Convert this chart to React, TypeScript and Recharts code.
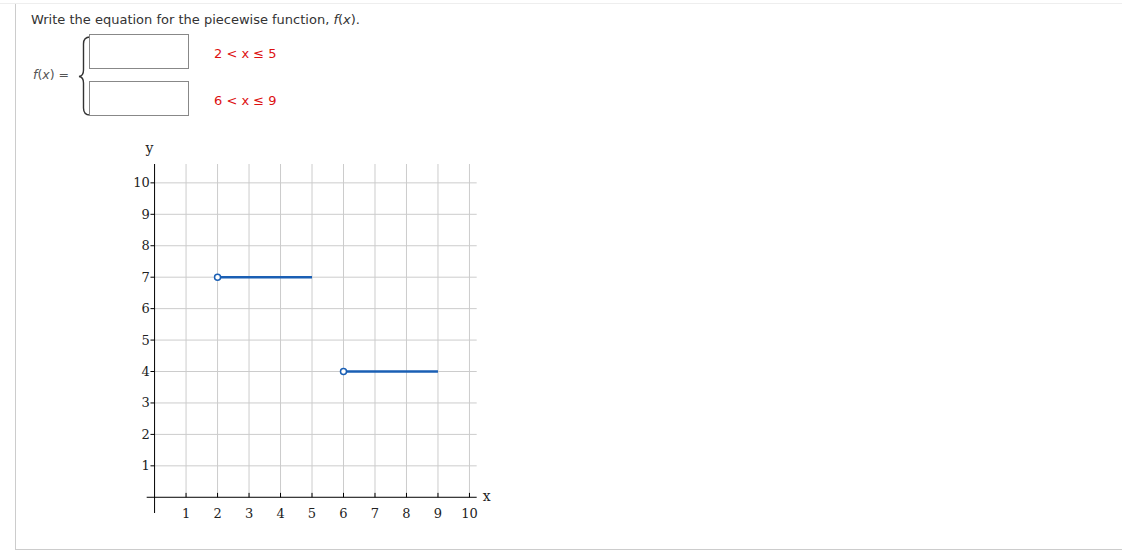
import React from 'react';
import { ComposedChart, XAxis, YAxis, Line, ReferenceLine } from 'recharts';

const xTicks = [1, 2, 3, 4, 5, 6, 7, 8, 9, 10];
const yTicks = [1, 2, 3, 4, 5, 6, 7, 8, 9, 10];
const piece1 = [
  { x: 2, y: 7 },
  { x: 5, y: 7 },
];
const piece2 = [
  { x: 6, y: 4 },
  { x: 9, y: 4 },
];
const conditions = ['2 < x \u2264 5', '6 < x \u2264 9'];

const X_DOMAIN: [number, number] = [-0.25, 10.23];
const Y_DOMAIN: [number, number] = [-0.5, 10.6];
const LINE_COLOR = '#1a5fb4';
const GRID_COLOR = '#cccccc';
const SERIF = '"DejaVu Serif", serif';
const SANS = '"DejaVu Sans", Verdana, sans-serif';

const XTick = (props: any) => {
  const { x, y, payload } = props;
  return (
    <text x={x} y={y + 4.5} textAnchor="middle" fontFamily={SERIF} fontSize={13} fill="#222">
      {payload.value}
    </text>
  );
};

const YTick = (props: any) => {
  const { x, y, payload } = props;
  return (
    <text x={x + 3} y={y + 4.5} textAnchor="end" fontFamily={SERIF} fontSize={13} fill="#222">
      {payload.value}
    </text>
  );
};

const openDot = (props: any) => {
  const { cx, cy, index } = props;
  if (index !== 0) return <g key={`d${index}`} />;
  return <circle key={`d${index}`} cx={cx} cy={cy} r={3} fill="#fff" stroke={LINE_COLOR} strokeWidth={1.5} />;
};

function Header() {
  return (
    <svg width={1122} height={552} style={{ position: 'absolute', left: 0, top: 0 }}>
      <line x1={0} y1={3.5} x2={1122} y2={3.5} stroke="#eeeeee" strokeWidth={1} />
      <line x1={15.5} y1={4} x2={15.5} y2={549} stroke="#cccccc" strokeWidth={1} />
      <line x1={15} y1={549.5} x2={1122} y2={549.5} stroke="#cccccc" strokeWidth={1} />
      <text x={31} y={24} fontFamily={SANS} fontSize={13} fill="#333">
        Write the equation for the piecewise function, <tspan fontStyle="italic">f</tspan>(<tspan fontStyle="italic">x</tspan>).
      </text>
      <text x={33} y={79} fontFamily={SANS} fontSize={12.5} fill="#555">
        <tspan fontStyle="italic">f</tspan>(<tspan fontStyle="italic">x</tspan>) =
      </text>
      <path
        d="M 90 37 Q 83.5 37 83.5 44 L 83.5 70 Q 83.5 76 79 76.5 Q 83.5 77 83.5 83 L 83.5 108 Q 83.5 115 90 115"
        fill="none"
        stroke="#333"
        strokeWidth={1.4}
      />
      <rect x={89.5} y={34.5} width={99} height={34} fill="#fff" stroke="#888" strokeWidth={1} />
      <rect x={89.5} y={81.5} width={99} height={34} fill="#fff" stroke="#888" strokeWidth={1} />
      <text x={214} y={57.5} fontFamily={SANS} fontSize={13} fill="#dd1111" xmlSpace="preserve">
        {conditions[0]}
      </text>
      <text x={214} y={104.5} fontFamily={SANS} fontSize={13} fill="#dd1111" xmlSpace="preserve">
        {conditions[1]}
      </text>
    </svg>
  );
}

export default function App() {
  return (
    <div style={{ position: 'absolute', left: 0, top: 0, width: 1122, height: 552, background: '#fff' }}>
      <Header />
      <div style={{ position: 'absolute', left: 100, top: 130 }}>
        <ComposedChart width={420} height={420} margin={{ top: 34, left: 16.7, right: 43.3, bottom: 7 }}>
          <XAxis
            type="number"
            dataKey="x"
            domain={X_DOMAIN}
            allowDataOverflow
            ticks={xTicks}
            axisLine={false}
            tickLine={false}
            tickSize={0}
            tickMargin={0}
            height={30}
            tick={<XTick />}
            interval={0}
          />
          <YAxis
            type="number"
            dataKey="y"
            domain={Y_DOMAIN}
            allowDataOverflow
            ticks={yTicks}
            axisLine={false}
            tickLine={false}
            tickSize={0}
            tickMargin={0}
            width={30}
            tick={<YTick />}
            interval={0}
          />
          {xTicks.map((t) => (
            <ReferenceLine
              key={`vg${t}`}
              segment={[{ x: t, y: 0 }, { x: t, y: Y_DOMAIN[1] }]}
              stroke={GRID_COLOR}
              strokeWidth={1}
            />
          ))}
          {yTicks.map((t) => (
            <ReferenceLine
              key={`hg${t}`}
              segment={[{ x: 0, y: t }, { x: X_DOMAIN[1], y: t }]}
              stroke={GRID_COLOR}
              strokeWidth={1}
            />
          ))}
          <ReferenceLine
            y={0}
            stroke="#000"
            strokeWidth={1}
            label={{
              content: (p: any) => (
                <text x={p.viewBox.x + p.viewBox.width + 6} y={p.viewBox.y + 4} fontFamily={SERIF} fontSize={14} fill="#222">
                  x
                </text>
              ),
            }}
          />
          <ReferenceLine
            x={0}
            stroke="#000"
            strokeWidth={1}
            label={{
              content: (p: any) => (
                <text x={p.viewBox.x - 5} y={p.viewBox.y - 11} textAnchor="middle" fontFamily={SERIF} fontSize={14} fill="#222">
                  y
                </text>
              ),
            }}
          />
          {xTicks.map((t) => (
            <ReferenceLine key={`xt${t}`} segment={[{ x: t, y: 0 }, { x: t, y: 0.14 }]} stroke="#000" strokeWidth={1} />
          ))}
          {yTicks.map((t) => (
            <ReferenceLine key={`yt${t}`} segment={[{ x: -0.13, y: t }, { x: 0, y: t }]} stroke="#000" strokeWidth={1} />
          ))}
          <Line data={piece1} dataKey="y" stroke={LINE_COLOR} strokeWidth={2.5} dot={openDot} activeDot={false} isAnimationActive={false} />
          <Line data={piece2} dataKey="y" stroke={LINE_COLOR} strokeWidth={2.5} dot={openDot} activeDot={false} isAnimationActive={false} />
        </ComposedChart>
      </div>
    </div>
  );
}
